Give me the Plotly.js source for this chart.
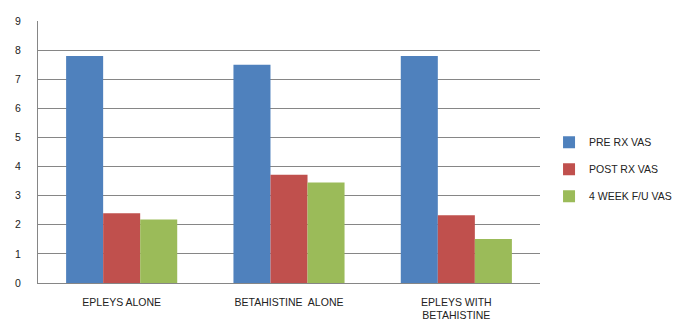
<!DOCTYPE html>
<html>
<head>
<meta charset="utf-8">
<script src="https://cdn.plot.ly/plotly-3.0.1.min.js"></script>
<style>html,body{margin:0;padding:0;background:#fff;}#chart{width:685px;height:324px;}</style>
</head>
<body>
<div id="chart"></div>
<script>
var categories = ["EPLEYS ALONE", "BETAHISTINE  ALONE", "EPLEYS WITH<br>BETAHISTINE"];
var seriesNames = ["PRE RX VAS", "POST RX VAS", "4 WEEK F/U VAS"];
var preRx = [7.8, 7.5, 7.8];
var postRx = [2.4, 3.72, 2.33];
var week4 = [2.18, 3.45, 1.51];
var colors = ["#4F81BD", "#C0504D", "#9BBB59"];
var yTicks = [0, 1, 2, 3, 4, 5, 6, 7, 8, 9];

var series = [preRx, postRx, week4];
var traces = series.map(function (vals, i) {
  return {
    type: "bar",
    x: categories,
    y: vals,
    name: seriesNames[i],
    legendgroup: "g" + i,
    marker: { color: colors[i], line: { width: 0 } },
    hoverinfo: "y"
  };
});

var layout = {
  width: 685,
  height: 324,
  margin: { l: 38, r: 145, t: 21, b: 41, pad: 0, autoexpand: false },
  paper_bgcolor: "#ffffff",
  plot_bgcolor: "#ffffff",
  font: { family: "Liberation Sans, Arial, sans-serif", size: 10, color: "#222222" },
  barmode: "group",
  bargap: 0.336,
  bargroupgap: 0,
  showlegend: true,
  legend: {
    x: 1.018, y: 0.434, xanchor: "left", yanchor: "middle",
    font: { size: 10.5, color: "#222222" },
    traceorder: "grouped",
    tracegroupgap: 8,
    itemwidth: 30,
    bgcolor: "rgba(0,0,0,0)"
  },
  xaxis: {
    type: "category",
    showline: true, linecolor: "#868686", linewidth: 1,
    ticks: "", showgrid: false,
    ticklabelstandoff: 9,
    tickfont: { size: 10.5, color: "#222222" },
    fixedrange: true
  },
  yaxis: {
    range: [0, 9],
    tickvals: yTicks,
    ticktext: yTicks.map(String),
    showline: true, linecolor: "#868686", linewidth: 1,
    showgrid: true, gridcolor: "#868686", gridwidth: 1,
    zeroline: false,
    ticks: "",
    ticklabelstandoff: 14,
    tickfont: { size: 10.5, color: "#222222" },
    fixedrange: true
  }
};

Plotly.newPlot("chart", traces, layout, { displayModeBar: false, staticPlot: true });
</script>
</body>
</html>
